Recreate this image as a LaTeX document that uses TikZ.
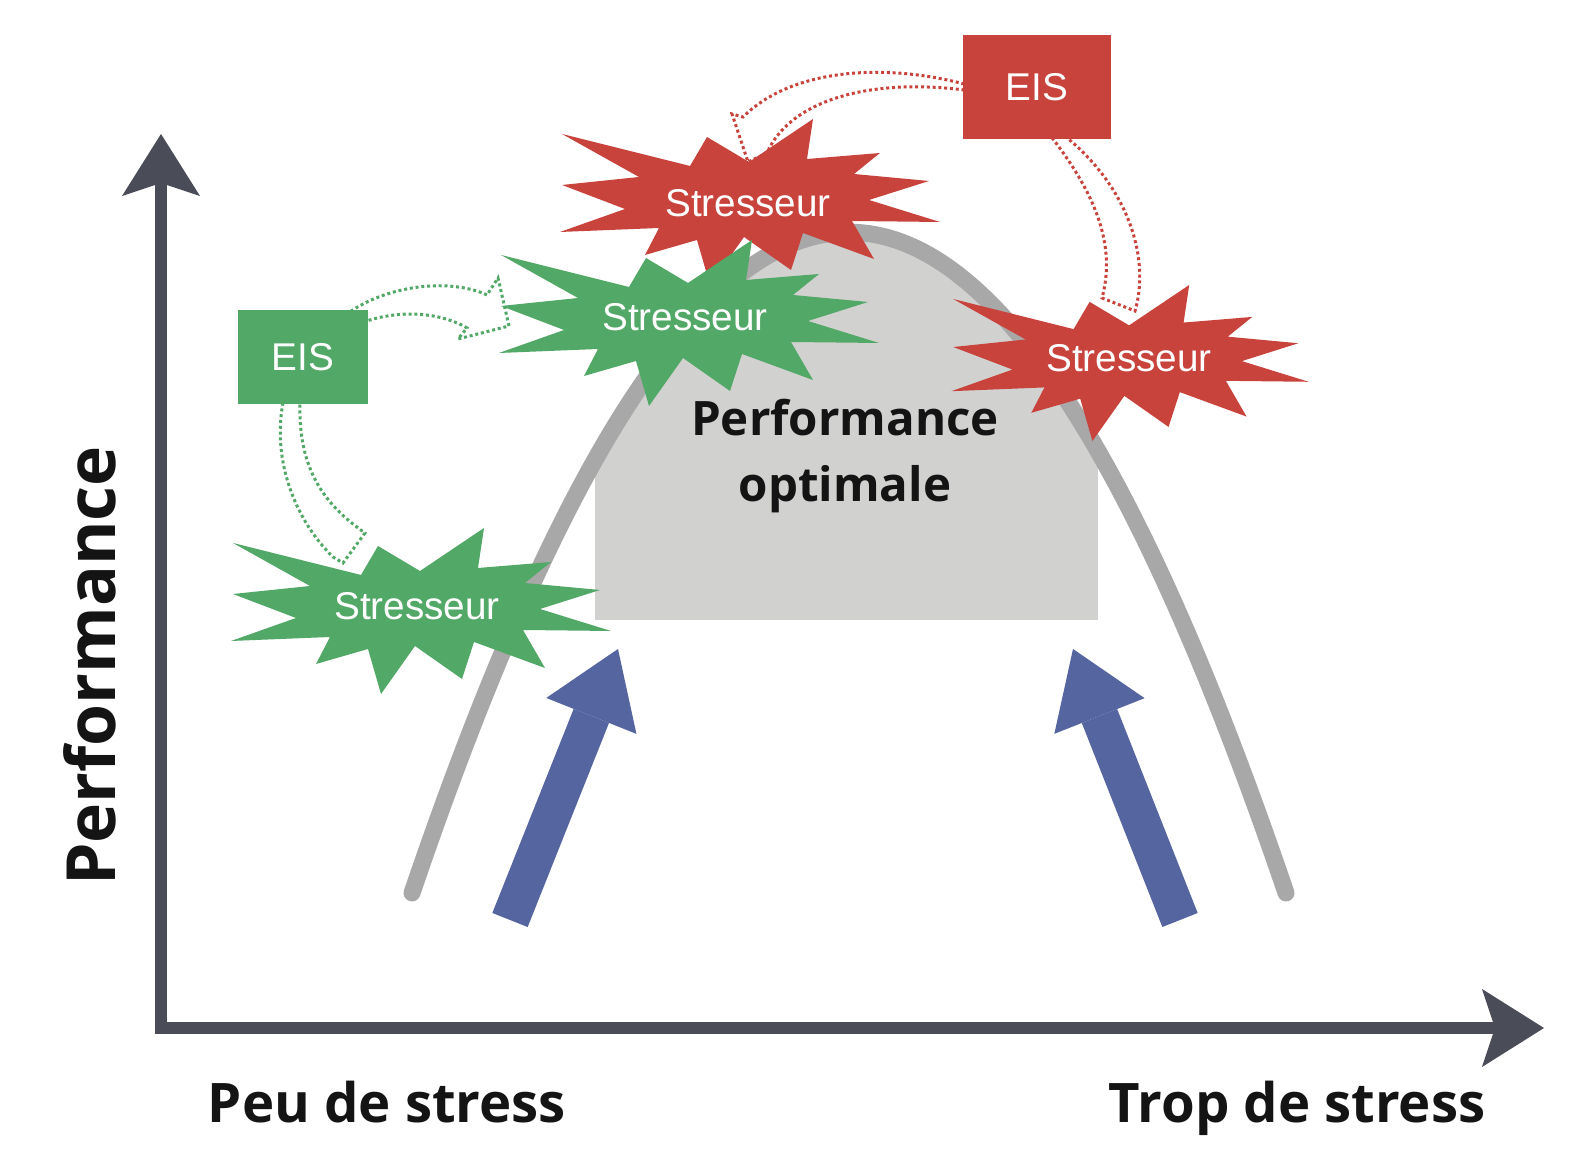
\documentclass[tikz,border=0pt]{standalone}
\usepackage{fontspec}
\setmainfont{Liberation Sans}
\newfontfamily\labelfont{Open Sans}
\usetikzlibrary{arrows.meta,calc}

\definecolor{greenfill}{HTML}{52A866}
\definecolor{redfill}{HTML}{C9433D}
\definecolor{arrowblue}{HTML}{5565A0}
\definecolor{curvegray}{HTML}{A7A8A7}
\definecolor{zonegray}{HTML}{D1D1D0}
\definecolor{axisgray}{HTML}{4A4D57}

\tikzset{
  burst/.pic={
    \fill[#1] (-188,-68) -- (-60,-36) -- (-43,-65) -- (-1,-40) -- (63,-83) -- (57,-43)
      -- (130,-49) -- (104,-28) -- (179,-21) -- (119,-2) -- (190,20) -- (102,19)
      -- (124,57) -- (53,31) -- (41,68) -- (-6,35) -- (-40,83) -- (-53,38)
      -- (-105,53) -- (-91,26) -- (-190,30) -- (-125,7) -- (-188,-17) -- (-111,-25) -- cycle;
  },
  eisbox/.style={rectangle, inner sep=0pt, text=white, font=\fontsize{11}{13}\selectfont},
  stresstext/.style={anchor=base, inner sep=0pt, text=white, font=\fontsize{11}{13}\selectfont},
  hollow/.style={draw=#1, line width=0.85pt, dash pattern=on 0.85pt off 0.8pt},
  axisline/.style={draw=axisgray, line width=0.12cm,
    {Stealth[length=0.62cm, width=0.78cm, inset=0.13cm, line width=0pt]}-{Stealth[length=0.62cm, width=0.78cm, inset=0.13cm, line width=0pt]}},
  bluearrow/.style={draw=arrowblue, line width=0.38cm, -{Triangle[length=0.72cm, width=0.97cm, line width=0pt]}},
  bellcurve/.style={draw=curvegray, line width=0.17cm, line cap=round},
  darktext/.style={inner sep=0pt, text=black!92, font=\labelfont\bfseries#1},
}

\begin{document}
\begin{tikzpicture}[x=0.01cm, y=-0.01cm]
    \fill[white] (0,0) rectangle (1594,1174);

    % zone de performance optimale sous la courbe
    \begin{scope}
        \clip (412,893) .. controls (712,12) and (986,12) .. (1286,893) -- cycle;
        \fill[zonegray] (595,200) rectangle (1098,620);
    \end{scope}
    \draw[bellcurve] (412,893) .. controls (712,12) and (986,12) .. (1286,893);

    \node[darktext={\fontsize{13.5}{19}\selectfont}, align=center] (optimum) at (845,456) {Performance\\optimale};

    \draw[bluearrow] (510,920) -- (618,649);
    \draw[bluearrow] (1180,920) -- (1073,649);

    % axes
    \draw[axisline] (161,134) |- (1544,1028);
    \node[darktext={\fontsize{19.3}{23}\selectfont}, rotate=90, anchor=base] (yaxis) at (115,666) {Performance};
    \node[darktext={\fontsize{15.5}{18}\selectfont}, anchor=base] (low) at (387,1123) {Peu de stress};
    \node[darktext={\fontsize{15.5}{18}\selectfont}, anchor=base] (high) at (1297,1123) {Trop de stress};

    \node[eisbox, fill=greenfill, minimum width=1.3cm, minimum height=0.94cm] (eisGreen) at (303,357) {EIS};
    \node[eisbox, fill=redfill, minimum width=1.48cm, minimum height=1.04cm] (eisRed) at (1037,87) {EIS};

    % fleches creuses en pointilles
    \draw[hollow=greenfill] ($(eisGreen.north east)+(-18,2)$) .. controls (390,285) and (450,278) .. (487,295)
        -- (498,278) -- (509,326) -- (458,339) -- (467,328)
        .. controls (440,312) and (400,310) .. ($(eisGreen.east)+(-2,-36)$);
    \draw[hollow=greenfill] ($(eisGreen.south)+(-20,-2)$) .. controls (272,460) and (295,520) .. (333,557)
        -- (343,563) -- (365,533) .. controls (325,505) and (298,470) .. ($(eisGreen.south)+(-3,-2)$);
    \draw[hollow=redfill] ($(eisRed.west)+(2,-3)$) .. controls (880,62) and (790,70) .. (743,117)
        -- (732,114) -- (748,162) -- (767,153)
        .. controls (790,100) and (870,78) .. ($(eisRed.west)+(2,3)$);
    \draw[hollow=redfill] ($(eisRed.south)+(15,-2)$) .. controls (1100,200) and (1115,250) .. (1102,298)
        -- (1135,311) .. controls (1150,260) and (1130,190) .. ($(eisRed.south)+(30,-2)$);

    % stresseurs
    \pic at (750,202) {burst=redfill};
    \node[stresstext] (stressTop) at (748,217) {Stresseur};
    \pic at (689,323) {burst=greenfill};
    \node[stresstext] (stressMid) at (685,331) {Stresseur};
    \pic at (421,611) {burst=greenfill};
    \node[stresstext] (stressLow) at (417,620) {Stresseur};
    \pic[scale=0.94] at (1130,363) {burst=redfill};
    \node[stresstext] (stressHigh) at (1129,372) {Stresseur};

    \node[eisbox, fill=greenfill, minimum width=1.3cm, minimum height=0.94cm] at (eisGreen) {EIS};
    \node[eisbox, fill=redfill, minimum width=1.48cm, minimum height=1.04cm] at (eisRed) {EIS};
\end{tikzpicture}
\end{document}
